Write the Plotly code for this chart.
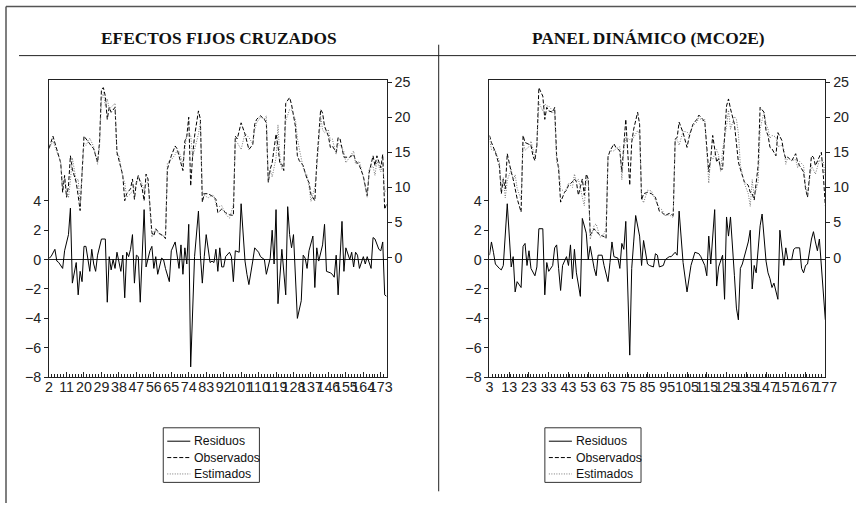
import plotly.graph_objects as go

# ---------------- DATA ----------------
# Left panel: EFECTOS FIJOS CRUZADOS  (t = observation position)
izq_tick_t = [0, 9, 18, 27, 36, 45, 54, 63, 72, 81, 90, 99, 108, 117, 126, 135, 144, 153, 162, 171]
izq_tick_lab = ["2", "11", "20", "29", "38", "47", "56", "65", "74", "83", "92", "101", "110",
                "119", "128", "137", "146", "155", "164", "173"]

izq_residuos = [(0,0.1),(1,0.2),(3,0.7),(4,-0.1),(5,-0.2),(7,-0.6),(8,0.6),(10,1.7),(11,3.5),(12,-1.6),
    (14,-0.2),(15,-2.4),(16,-0.8),(17,-1.5),(18,0.9),(19,0.9),(21,-0.8),(22,0.7),(23,-0.3),(24,-0.8),
    (25,0.3),(27,1.4),(29,1.4),(30,-2.9),(31,0.2),(32,-0.7),(33,0.0),(34,-0.6),(35,0.5),(37,-0.8),
    (38,0.3),(39,-2.6),(40,0.5),(41,0.2),(42,0.7),(43,1.7),(44,-1.6),(45,0.3),(46,0.2),(47,-2.9),
    (49,3.4),(50,-0.5),(52,0.6),(53,0.9),(54,-0.6),(55,0.2),(56,-1.0),(58,0.1),(59,0.0),(60,-0.6),
    (62,-1.5),(63,0.6),(65,1.2),(66,0.2),(67,-0.6),(68,1.0),(69,-1.0),(70,0.8),(71,-0.3),(72,2.4),
    (73,-7.3),(75,0.2),(76,1.9),(77,3.3),(78,0.3),(79,-1.6),(80,0.2),(81,1.7),(83,-0.2),(84,-0.1),
    (85,-0.2),(86,0.7),(87,-0.8),(88,0.8),(89,-0.5),(90,-0.5),(91,0.2),(93,0.5),(94,0.2),(95,-1.5),
    (96,0.6),(98,0.5),(99,3.8),(101,-0.1),(102,-1.0),(103,-1.7),(105,-0.1),(106,0.8),(108,0.5),(109,0.2),
    (111,0.0),(112,-1.0),(114,0.1),(115,2.0),(116,-0.3),(117,3.4),(118,-3.0),(119,-1.0),(120,0.7),(122,-2.4),
    (123,3.6),(124,1.7),(125,0.8),(126,1.7),(127,-1.0),(128,-4.0),(130,-2.8),(131,0.3),(132,0.1),(133,-0.6),
    (134,0.6),(136,1.6),(137,-1.9),(138,0.8),(139,-0.1),(141,1.0),(142,2.4),(143,-0.8),(145,-0.9),(146,-1.0),
    (147,-1.2),(148,0.3),(149,-2.4),(151,2.6),(152,-0.8),(153,0.8),(155,0.0),(156,0.5),(157,-0.5),(158,0.5),
    (159,0.3),(160,-0.6),(162,0.2),(163,-0.3),(164,0.2),(166,-0.6),(167,1.5),(168,1.4),(170,0.7),(171,0.6),
    (172,1.2),(173,-2.4),(174,-2.5)]

izq_observados = [(0,15.6),(2,17.3),(6,13.5),(7,9.3),(8,11.7),(9,8.6),(10,10.2),(11,14.5),(12,12.6),(14,10.7),
    (15,8.8),(16,6.7),(18,17.3),(19,16.9),(21,16.2),(23,15.5),(25,13.6),(26,16.4),(27,24.0),(28,24.2),
    (29,23.0),(30,19.7),(31,21.4),(32,20.7),(34,21.4),(35,15.0),(36,14.0),(38,11.7),(39,8.1),(40,9.1),
    (42,9.8),(43,11.2),(44,8.3),(45,10.7),(46,11.7),(48,9.8),(49,8.1),(50,11.9),(51,11.2),(53,3.6),
    (54,3.1),(55,4.1),(57,3.4),(59,3.1),(60,2.7),(61,12.6),(63,14.5),(65,15.9),(66,15.5),(67,14.5),
    (69,12.4),(70,16.6),(71,17.3),(72,20.0),(73,10.2),(74,14.5),(75,17.3),(77,20.9),(78,19.7),(79,7.9),
    (80,9.1),(82,9.1),(84,8.8),(85,8.6),(86,8.3),(87,6.4),(89,6.9),(91,6.4),(93,6.1),(95,6.0),
    (96,17.3),(97,16.9),(99,19.2),(101,17.6),(103,15.4),(105,16.1),(106,19.0),(107,19.7),(109,20.2),(111,19.7),
    (112,19.2),(113,10.7),(114,12.6),(115,13.5),(117,17.6),(118,15.9),(119,13.3),(120,13.3),(121,12.4),(122,22.0),
    (124,22.8),(125,21.8),(127,18.7),(128,14.5),(129,13.8),(131,13.1),(132,12.1),(133,11.2),(134,10.7),(135,9.0),
    (137,8.1),(138,13.5),(140,21.1),(141,20.6),(142,18.7),(144,17.3),(145,15.7),(146,15.9),(148,15.0),(149,17.1),
    (150,16.9),(152,14.3),(153,14.3),(155,14.3),(157,14.7),(158,13.8),(160,13.1),(162,11.6),(164,8.8),(165,12.1),
    (167,14.5),(168,13.1),(169,14.5),(171,12.8),(172,14.7),(173,6.9),(174,7.6)]

izq_estimados = [(0,15.5),(2,16.6),(6,13.6),(7,9.9),(8,11.1),(9,9.5),(10,8.5),(11,11.0),(12,14.2),(14,10.9),
    (15,11.2),(16,7.5),(18,16.4),(19,16.0),(21,17.0),(23,15.8),(25,13.3),(26,15.8),(27,22.6),(28,23.5),
    (29,21.6),(30,22.6),(31,21.2),(32,21.4),(34,22.0),(35,14.5),(36,14.6),(38,11.4),(39,10.7),(40,8.6),
    (42,9.1),(43,9.5),(44,9.9),(45,10.4),(46,11.5),(48,10.5),(49,9.5),(50,10.5),(51,10.8),(53,2.9),
    (54,3.7),(55,3.9),(57,3.3),(59,3.1),(60,3.3),(61,13.5),(63,13.9),(65,14.7),(66,15.3),(67,15.1),
    (69,13.4),(70,15.8),(71,17.6),(72,17.6),(73,17.5),(74,14.3),(75,15.4),(77,17.6),(78,19.4),(79,9.5),
    (80,8.9),(82,8.5),(84,8.9),(85,8.8),(86,7.6),(87,7.2),(89,7.4),(91,6.2),(93,5.6),(95,7.5),
    (96,16.7),(97,16.4),(99,15.4),(101,17.7),(103,17.1),(105,16.2),(106,18.2),(107,19.2),(109,20.0),(111,19.7),
    (112,20.2),(113,11.0),(114,12.5),(115,11.5),(117,14.2),(118,18.9),(119,14.3),(120,12.6),(121,13.5),(122,19.5),
    (124,21.1),(125,21.0),(127,19.7),(128,17.0),(129,15.5),(131,12.8),(132,12.0),(133,11.8),(134,10.1),(135,8.0),
    (137,10.0),(138,12.7),(140,20.1),(141,18.2),(142,17.8),(144,18.2),(145,16.7),(146,16.9),(148,14.7),(149,16.3),
    (150,16.0),(152,15.1),(153,13.5),(155,14.3),(157,15.2),(158,13.3),(160,13.7),(162,11.4),(164,8.6),(165,12.7),
    (167,13.0),(168,11.7),(169,13.8),(171,12.2),(172,13.5),(173,9.3),(174,9.8)]

# Right panel: PANEL DINÁMICO (MCO2E)
der_tick_t = [0, 10, 20, 30, 40, 50, 60, 70, 80, 90, 100, 110, 120, 130, 140, 150, 160, 170]
der_tick_lab = ["3", "13", "23", "33", "43", "53", "63", "75", "85", "95", "105", "115", "125",
                "135", "147", "157", "167", "177"]

der_residuos = [(0,0.3),(1,1.2),(2,0.5),(3,-0.3),(5,-0.6),(6,-0.7),(7,-0.4),(8,1.6),(9,3.8),(11,-0.5),
    (12,0.2),(13,-2.2),(14,-1.5),(16,-1.9),(17,0.9),(18,1.1),(19,-0.4),(20,0.6),(21,-0.6),(23,-1.1),
    (24,-0.5),(25,2.1),(27,2.1),(28,-2.4),(29,-0.2),(30,-0.8),(32,-0.4),(33,0.8),(34,1.0),(35,-0.6),
    (36,-2.1),(37,-0.4),(39,0.2),(40,-0.4),(41,1.0),(42,-1.3),(43,0.7),(44,-0.9),(46,-2.5),(47,2.8),
    (49,1.8),(50,0.0),(51,0.9),(53,-0.6),(54,-1.1),(55,0.3),(57,0.3),(58,-0.4),(60,-1.5),(61,-0.2),
    (62,1.2),(63,0.2),(65,0.1),(66,-0.6),(67,1.1),(68,0.7),(69,2.6),(71,-6.5),(72,-0.6),(73,1.2),
    (74,3.0),(76,1.6),(77,-0.4),(78,1.3),(80,-0.3),(81,-0.4),(83,-0.5),(84,0.4),(85,0.3),(86,-0.5),
    (88,-0.4),(89,0.0),(91,0.2),(92,0.2),(94,0.5),(95,0.3),(96,3.3),(98,-0.2),(100,-2.2),(102,-0.4),
    (104,0.5),(106,0.4),(107,0.2),(109,-0.4),(110,-1.1),(111,1.6),(112,-0.3),(114,3.4),(115,-1.8),(116,-0.5),
    (118,0.3),(119,-2.7),(120,2.9),(121,1.6),(122,2.9),(124,-1.1),(125,-3.3),(126,-4.1),(127,-0.6),(128,-0.3),
    (129,0.2),(131,1.2),(132,2.0),(133,-2.0),(134,-0.4),(135,-0.9),(137,2.3),(138,3.1),(140,-0.1),(141,-0.9),
    (142,-1.3),(143,-1.9),(144,-1.6),(146,-2.7),(147,2.0),(148,0.7),(149,-0.4),(150,0.8),(151,0.0),(153,0.0),
    (154,0.7),(155,0.8),(157,0.8),(158,-0.6),(159,-0.9),(160,-0.4),(161,-0.3),(163,1.4),(164,1.9),(165,1.2),
    (166,0.6),(167,1.4),(169,-2.0),(170,-4.1)]

der_observados = [(0,17.4),(1,16.4),(3,15.0),(5,13.1),(6,9.1),(7,11.2),(8,9.8),(9,14.8),(11,12.2),(12,11.2),
    (13,9.8),(14,8.4),(16,6.5),(17,17.4),(18,16.4),(20,16.2),(21,16.0),(22,14.5),(23,13.8),(24,16.0),
    (25,24.2),(27,23.0),(28,19.7),(29,21.4),(30,20.9),(32,20.7),(33,21.4),(34,14.5),(35,12.6),(36,7.9),
    (38,9.3),(39,9.6),(40,10.3),(42,10.8),(43,11.2),(44,10.8),(45,8.9),(47,11.2),(48,8.9),(49,11.9),
    (50,11.2),(51,3.2),(53,4.1),(54,3.7),(56,3.2),(58,3.0),(59,2.7),(60,14.3),(61,15.2),(63,16.2),
    (64,15.7),(66,15.2),(67,12.2),(68,16.0),(69,19.7),(71,10.3),(72,16.4),(73,18.3),(75,20.7),(76,19.0),
    (77,8.2),(78,9.1),(80,9.3),(82,9.1),(84,8.6),(86,6.6),(87,6.5),(89,6.0),(91,6.3),(93,6.0),
    (94,16.9),(95,17.1),(96,19.3),(98,17.8),(100,15.7),(101,17.1),(103,19.0),(105,19.7),(106,20.3),(108,19.7),
    (109,19.3),(111,12.2),(112,14.1),(113,17.4),(115,13.6),(116,14.1),(117,12.6),(118,12.6),(120,21.6),(121,22.6),
    (122,21.2),(124,19.0),(125,16.4),(126,13.6),(127,12.6),(128,11.7),(129,10.8),(131,10.3),(132,9.3),(133,9.1),
    (134,8.2),(136,13.1),(137,21.4),(139,20.7),(140,18.1),(141,17.4),(142,15.7),(143,15.5),(145,14.5),(146,17.8),
    (148,16.7),(149,15.0),(150,14.1),(151,14.3),(153,13.8),(155,14.8),(156,13.6),(157,13.1),(159,12.2),(160,9.8),
    (161,8.6),(163,14.5),(164,14.3),(165,13.1),(167,14.5),(168,15.0),(169,11.7),(170,7.4)]

der_estimados = [(0,16.9),(1,15.4),(3,15.2),(5,13.7),(6,9.8),(7,11.4),(8,8.5),(9,11.0),(11,12.6),(12,11.0),
    (13,11.8),(14,9.9),(16,8.2),(17,16.5),(18,15.3),(20,15.8),(21,16.6),(22,15.6),(23,14.3),(24,15.9),
    (25,22.1),(27,20.9),(28,21.9),(29,21.6),(30,21.6),(32,20.9),(33,20.6),(34,13.5),(35,13.2),(36,9.8),
    (38,9.4),(39,9.8),(40,10.6),(42,10.0),(43,11.9),(44,10.8),(45,11.2),(47,8.6),(48,7.4),(49,11.2),
    (50,11.2),(51,2.6),(53,4.6),(54,4.8),(56,2.9),(58,3.4),(59,4.1),(60,14.5),(61,15.2),(63,15.2),
    (64,15.5),(66,15.8),(67,11.1),(68,15.3),(69,17.2),(71,16.8),(72,17.0),(73,17.1),(75,18.1),(76,17.4),
    (77,8.6),(78,7.8),(80,9.6),(82,9.5),(84,8.2),(86,7.1),(87,6.9),(89,6.0),(91,6.1),(93,5.7),
    (94,16.6),(95,16.8),(96,16.0),(98,18.0),(100,17.9),(101,17.5),(103,18.8),(105,19.3),(106,19.9),(108,19.5),
    (109,19.7),(111,10.6),(112,14.4),(113,14.0),(115,15.4),(116,14.6),(117,12.3),(118,15.3),(120,18.7),(121,21.0),
    (122,18.3),(124,20.1),(125,19.7),(126,17.7),(127,13.2),(128,12.0),(129,10.6),(131,9.1),(132,7.3),(133,11.1),
    (134,8.6),(136,10.8),(137,18.3),(139,20.8),(140,19.0),(141,18.3),(142,17.0),(143,17.4),(145,17.2),(146,15.8),
    (148,16.0),(149,15.4),(150,13.3),(151,14.3),(153,13.8),(155,14.0),(156,12.8),(157,13.7),(159,13.1),(160,10.2),
    (161,8.9),(163,13.1),(164,12.4),(165,11.9),(167,13.9),(168,13.6),(169,13.7),(170,11.5)]

titulos = ["EFECTOS FIJOS CRUZADOS", "PANEL DINÁMICO (MCO2E)"]
nombres = ["Residuos", "Observados", "Estimados"]

# ---------------- FIGURE ----------------
W, H = 868, 511
S, OFF = 0.98, 4.0          # compensation for the photographed page scale
def px(x):
    return ((x - OFF) / S) / W
def py(y):
    return 1 - ((y - OFF) / S) / H
def fs(v):
    return v / S

TICKFONT = dict(family="Liberation Sans, Arial, sans-serif", size=fs(14), color="#222")
LEGFONT = dict(family="Liberation Sans, Arial, sans-serif", size=fs(12), color="#111")
LC = "#222"

STYLES = [dict(color="#000", width=1),
          dict(color="#000", width=1, dash="4px,2px"),
          dict(color="#777", width=1, dash="1px,1.5px")]

fig = go.Figure()

def add_panel(res, obs, est, xa, ya_res, ya_obs):
    for serie, ya, st, nm in zip([res, obs, est], [ya_res, ya_obs, ya_obs], STYLES, nombres):
        fig.add_trace(go.Scatter(x=[p[0] for p in serie], y=[p[1] for p in serie], mode="lines",
                                 name=nm, line=st, xaxis=xa, yaxis=ya, showlegend=False))

add_panel(izq_residuos, izq_observados, izq_estimados, "x", "y", "y2")
add_panel(der_residuos, der_observados, der_estimados, "x2", "y3", "y4")

ydom = [py(378), py(79)]
res_range = [-8, 12.19]
obs_range = [-17.04, 25.24]

def xaxis_cfg(dom, rng, tv, tt, anchor):
    return dict(domain=dom, range=rng, anchor=anchor, tickmode="array", tickvals=tv, ticktext=tt,
                tickangle=0, ticks="inside", ticklen=5, tickcolor=LC, showline=True, mirror=True,
                linecolor=LC, linewidth=1, showgrid=False, zeroline=False, tickfont=TICKFONT,
                ticklabelstandoff=-3,
                minor=dict(ticks="inside", ticklen=3, tick0=0, dtick=1.5, tickcolor=LC, showgrid=False))

def yres_cfg(anchor):
    return dict(domain=ydom, range=res_range, anchor=anchor, tickmode="array",
                tickvals=[-8, -6, -4, -2, 0, 2, 4], ticks="outside", ticklen=4, tickcolor=LC,
                showline=True, linecolor=LC, linewidth=1, showgrid=False, zeroline=True,
                zerolinecolor=LC, zerolinewidth=1, tickfont=TICKFONT)

def yobs_cfg(anchor, over):
    return dict(range=obs_range, anchor=anchor, overlaying=over, side="right", tickmode="array",
                tickvals=[0, 5, 10, 15, 20, 25], ticks="outside", ticklen=4, tickcolor=LC,
                showline=True, linecolor=LC, linewidth=1, showgrid=False, zeroline=False,
                tickfont=TICKFONT)

fig.update_layout(
    width=W, height=H, margin=dict(l=0, r=0, t=0, b=0),
    paper_bgcolor="white", plot_bgcolor="white", hovermode=False, showlegend=False,
    xaxis=xaxis_cfg([px(49), px(386)], [0, 174], izq_tick_t, izq_tick_lab, "y"),
    yaxis=yres_cfg("x"),
    yaxis2=yobs_cfg("x", "y"),
    xaxis2=xaxis_cfg([px(488.7), px(824)], [0, 170], der_tick_t, der_tick_lab, "y3"),
    yaxis3=yres_cfg("x2"),
    yaxis4=yobs_cfg("x2", "y3"),
)

# titles
for txt, cx in zip(titulos, [219, 647]):
    fig.add_annotation(text="<b>%s</b>" % txt, x=px(cx), y=py(36.5), xref="paper", yref="paper",
                       showarrow=False, xanchor="center", yanchor="middle",
                       font=dict(family="Liberation Serif, Times New Roman, serif", size=fs(17), color="#111"))

# legend boxes (one under each panel)
rows = [442.5, 459, 475.5]
for x0 in [163, 544]:
    fig.add_shape(type="rect", xref="paper", yref="paper", x0=px(x0), x1=px(x0 + 96),
                  y0=py(484), y1=py(429), line=dict(color="#333", width=1), fillcolor="white")
    for ry, st, nm in zip(rows, STYLES, nombres):
        fig.add_shape(type="line", xref="paper", yref="paper", x0=px(x0 + 4), x1=px(x0 + 27),
                      y0=py(ry), y1=py(ry), line=st)
        fig.add_annotation(text=nm, x=px(x0 + 30), y=py(ry), xref="paper", yref="paper",
                           showarrow=False, xanchor="left", yanchor="middle", font=LEGFONT,
                           borderpad=0)

frame = dict(color="#555", width=1.5)
fig.add_shape(type="line", xref="paper", yref="paper", x0=px(6), x1=1, y0=py(4.5), y1=py(4.5), line=frame)
fig.add_shape(type="line", xref="paper", yref="paper", x0=px(6), x1=px(6), y0=0, y1=py(4.5), line=frame)
fig.add_shape(type="line", xref="paper", yref="paper", x0=px(19), x1=1, y0=py(54), y1=py(54),
              line=dict(color="#222", width=1))
fig.add_shape(type="line", xref="paper", yref="paper", x0=px(438), x1=px(438), y0=py(493), y1=py(43),
              line=dict(color="#222", width=1))

fig.write_html("out.html", config={"displayModeBar": False},
               post_script="document.body.style.margin='0';document.body.style.padding='0';"
                           "document.documentElement.style.overflow='hidden';")
